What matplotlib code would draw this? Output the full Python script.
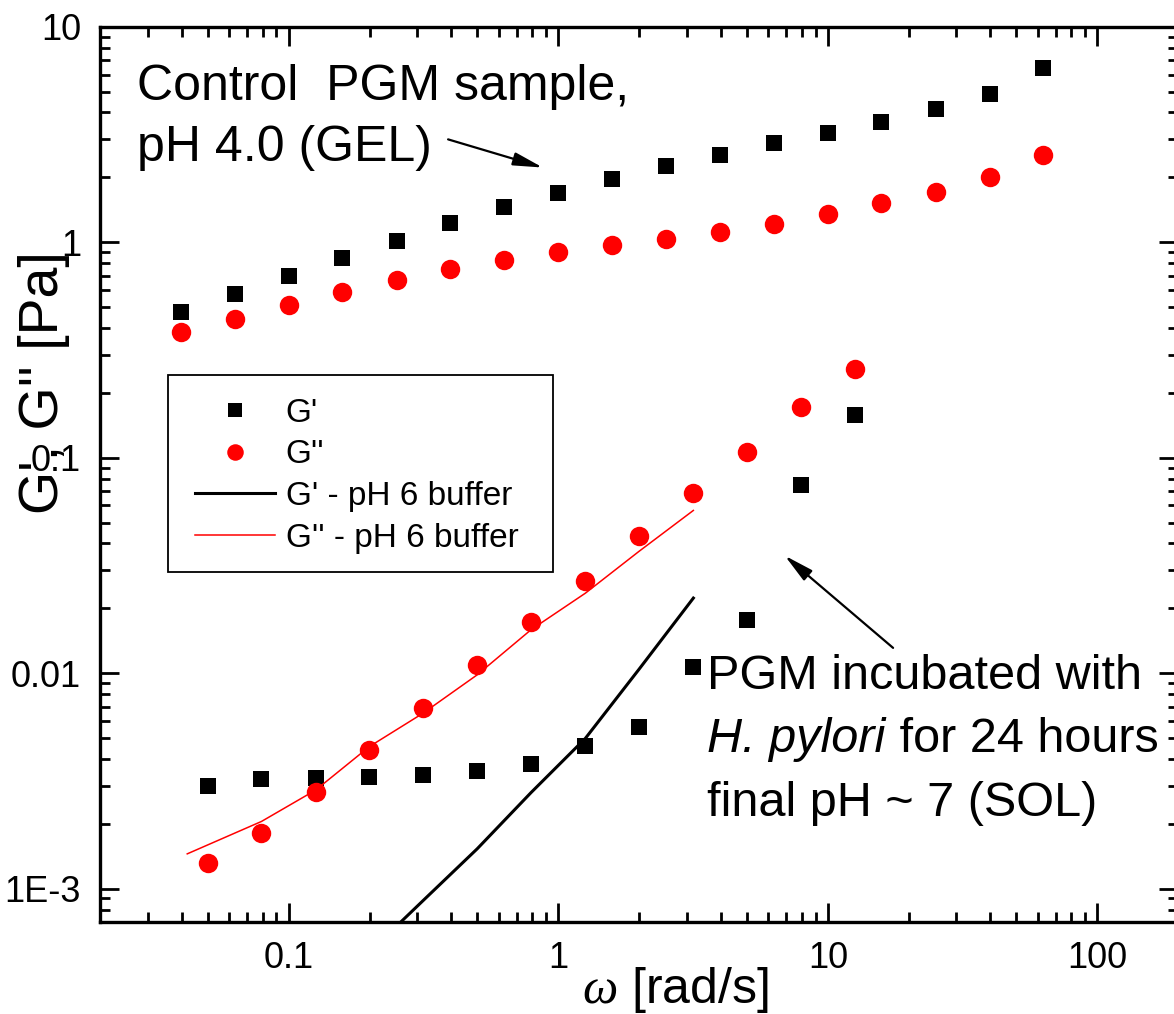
import matplotlib.pyplot as plt
from matplotlib.patches import Rectangle
from matplotlib.ticker import FixedLocator, FixedFormatter, LogLocator, NullFormatter

plt.rcParams['font.family'] = 'Liberation Sans'
plt.rcParams['mathtext.fontset'] = 'custom'
plt.rcParams['mathtext.rm'] = 'Liberation Serif'
plt.rcParams['mathtext.it'] = 'Liberation Serif:italic'

# control PGM sample, pH 4.0 (gel)
w_gel = [0.0398, 0.0631, 0.1, 0.158, 0.251, 0.398, 0.631, 1.0, 1.58, 2.51,
         3.98, 6.31, 10.0, 15.8, 25.1, 39.8, 63.1]
g1_gel = [0.475, 0.576, 0.697, 0.846, 1.015, 1.23, 1.46, 1.70, 1.97, 2.26,
          2.55, 2.90, 3.22, 3.62, 4.17, 4.89, 6.46]
g2_gel = [0.382, 0.441, 0.510, 0.586, 0.669, 0.747, 0.825, 0.903, 0.973, 1.04,
          1.12, 1.22, 1.35, 1.52, 1.71, 2.01, 2.55]

# PGM incubated with H. pylori, 24 h (sol)
w_sol = [0.05, 0.0792, 0.126, 0.199, 0.315, 0.5, 0.792, 1.26, 1.99, 3.15,
         5.0, 7.92, 12.6]
g1_sol = [0.00299, 0.00322, 0.00325, 0.00329, 0.00336, 0.00351, 0.00378,
          0.00458, 0.00561, 0.0107, 0.0177, 0.0747, 0.157]
g2_sol = [0.00131, 0.00182, 0.00281, 0.00440, 0.00688, 0.0109, 0.0173,
          0.0269, 0.0431, 0.0688, 0.106, 0.171, 0.257]

# pH 6 buffer
w_buf1 = [0.2, 0.315, 0.5, 0.792, 1.26, 1.99, 3.17]
g1_buf = [0.00051, 0.00088, 0.00153, 0.00279, 0.00498, 0.0104, 0.0223]
w_buf2 = [0.042, 0.0792, 0.126, 0.199, 0.315, 0.5, 0.792, 1.26, 1.99, 3.17]
g2_buf = [0.00145, 0.00205, 0.00287, 0.00456, 0.00652, 0.00982, 0.0159,
          0.0235, 0.0367, 0.0569]

y_ticks = [1e-3, 1e-2, 1e-1, 1, 10]
y_labels = ['1E-3', '0.01', '0.1', '1', '10']
x_ticks = [0.1, 1, 10, 100]
x_labels = ['0.1', '1', '10', '100']

W, H = 1174, 1014
fig = plt.figure(figsize=(W / 100, H / 100), dpi=100)
ax = fig.add_axes([100.4 / W, 92 / H, (1178.5 - 100.4) / W, 895.3 / H])

ax.plot(w_gel, g1_gel, 's', color='black', ms=12, mew=0, label="G'")
ax.plot(w_gel, g2_gel, 'o', color='red', ms=14, mew=0, label="G''")
ax.plot(w_sol, g1_sol, 's', color='black', ms=12, mew=0)
ax.plot(w_sol, g2_sol, 'o', color='red', ms=14, mew=0)
ax.plot(w_buf1, g1_buf, '-', color='black', lw=2.2, label="G' - pH 6 buffer")
ax.plot(w_buf2, g2_buf, '-', color='red', lw=1.1, label="G'' - pH 6 buffer")

ax.set_xscale('log')
ax.set_yscale('log')
ax.set_xlim(0.02, 200)
ax.set_ylim(7e-4, 10)

ax.xaxis.set_major_locator(FixedLocator(x_ticks))
ax.xaxis.set_major_formatter(FixedFormatter(x_labels))
ax.yaxis.set_major_locator(FixedLocator(y_ticks))
ax.yaxis.set_major_formatter(FixedFormatter(y_labels))
ax.xaxis.set_minor_locator(LogLocator(base=10, subs=range(2, 10), numticks=20))
ax.yaxis.set_minor_locator(LogLocator(base=10, subs=range(2, 10), numticks=20))
ax.xaxis.set_minor_formatter(NullFormatter())
ax.yaxis.set_minor_formatter(NullFormatter())

ax.tick_params(which='both', direction='in', top=True, right=True, width=2,
               labelsize=26, pad=14)
ax.tick_params(which='major', length=13.5)
ax.tick_params(which='minor', length=7.5)
for s in ax.spines.values():
    s.set_linewidth(2.4)

ax.set_xlabel(r'$\omega$ [rad/s]', fontsize=36)
ax.xaxis.set_label_coords(0.533, -0.076)
ax.xaxis.label.set_va('center')
ax.set_ylabel("G', G'' [Pa]", fontsize=40)
ax.yaxis.set_label_coords(-0.052, 0.602)
ax.yaxis.label.set_va('center')

# legend entries without frame, box drawn separately (figure inches)
leg = ax.legend(loc='upper left', bbox_to_anchor=(0.0627, 0.6155), borderaxespad=0,
                fontsize=24, frameon=False, handlelength=2.4, handletextpad=0.33,
                borderpad=0.8, labelspacing=0.32, markerscale=0.85)
fig.add_artist(Rectangle((1.68, (H - 572) / 100), 3.85, 1.97,
                         transform=fig.dpi_scale_trans, fill=False,
                         edgecolor='black', lw=1.3))

ax.text(0.034, 0.918, 'Control  PGM sample,', transform=ax.transAxes,
        fontsize=36, va='baseline')
ax.text(0.034, 0.850, 'pH 4.0 (GEL)', transform=ax.transAxes,
        fontsize=36, va='baseline')
ax.text(0.563, 0.260, 'PGM incubated with', transform=ax.transAxes,
        fontsize=35, va='baseline')
t_it = ax.text(0.563, 0.190, 'H. pylori', transform=ax.transAxes,
               fontsize=35, va='baseline', style='italic')
ax.annotate(' for 24 hours', xy=(1, 0), xycoords=t_it, va='bottom',
            fontsize=35)
ax.text(0.563, 0.118, 'final pH ~ 7 (SOL)', transform=ax.transAxes,
        fontsize=35, va='baseline')

arrow = dict(arrowstyle='-|>,head_length=0.9,head_width=0.2', mutation_scale=20,
             color='black', lw=1.6, shrinkA=0, shrinkB=0)
ax.annotate('', xy=(0.876, 2.22), xytext=(0.39, 3.0), arrowprops=arrow)
ax.annotate('', xy=(6.92, 0.0351), xytext=(17.46, 0.0131), arrowprops=arrow)

fig.savefig('out.png', dpi=100)
